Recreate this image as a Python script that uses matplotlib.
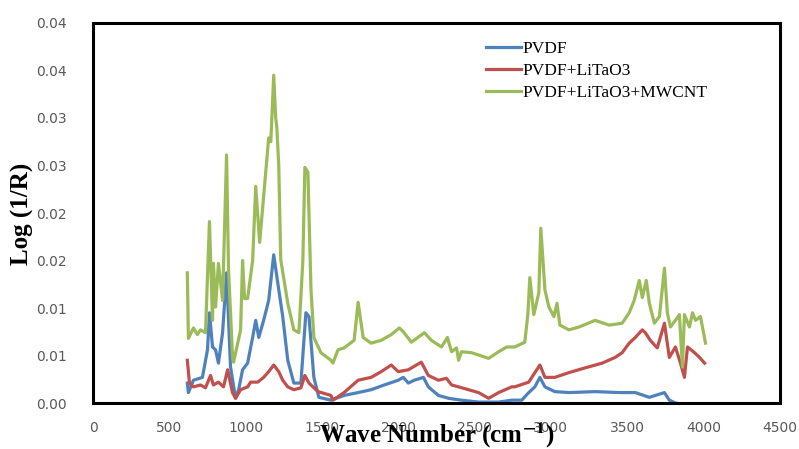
import numpy as np
import matplotlib
matplotlib.use("Agg")
import matplotlib.pyplot as plt

# spectra (wave number cm-1, log(1/R))
pvdf_x = [618, 625, 658, 717, 750, 763, 783, 803, 822, 849, 875, 901, 934, 954, 980,
          1013, 1046, 1066, 1086, 1118, 1151, 1184, 1211, 1243, 1276, 1316, 1362, 1395,
          1415, 1447, 1480, 1559, 1645, 1737, 1822, 1908, 2000, 2033, 2066, 2105, 2165,
          2197, 2263, 2329, 2414, 2526, 2658, 2743, 2809, 2855, 2895, 2928, 2961, 3026,
          3118, 3290, 3447, 3553, 3645, 3744, 3776, 3816, 3900]
pvdf_y = [0.0021, 0.0011, 0.0024, 0.0027, 0.0056, 0.0095, 0.0059, 0.0056, 0.0042, 0.0074,
          0.0137, 0.0038, 0.0005, 0.0014, 0.0035, 0.0042, 0.0069, 0.0087, 0.0069, 0.0087,
          0.0108, 0.0156, 0.0126, 0.0091, 0.0045, 0.0021, 0.0021, 0.0095, 0.0091, 0.0027,
          0.0006, 0.0003, 0.0008, 0.0011, 0.0014, 0.0019, 0.0024, 0.0027, 0.0021, 0.0024,
          0.0027, 0.0017, 0.0008, 0.0005, 0.0003, 0.0001, 0.0001, 0.0003, 0.0003, 0.0011,
          0.0017, 0.0027, 0.0017, 0.0012, 0.0011, 0.0012, 0.0011, 0.0011, 0.0006, 0.0011,
          0.0003, 0.0000, -0.0002]

lt_x = [618, 632, 658, 704, 737, 770, 789, 822, 855, 882, 914, 934, 967, 1013, 1033, 1079,
        1118, 1151, 1184, 1217, 1243, 1276, 1316, 1362, 1388, 1415, 1461, 1474, 1559, 1572,
        1645, 1737, 1822, 1888, 1954, 2000, 2066, 2151, 2197, 2263, 2316, 2349, 2395, 2461,
        2526, 2592, 2658, 2743, 2763, 2855, 2895, 2928, 2961, 3026, 3118, 3224, 3336, 3421,
        3467, 3513, 3553, 3599, 3619, 3651, 3697, 3744, 3776, 3816, 3849, 3875, 3895, 3941,
        3974, 4007]
lt_y = [0.0045, 0.0021, 0.0017, 0.0019, 0.0016, 0.0029, 0.0019, 0.0022, 0.0017, 0.0035,
        0.0011, 0.0005, 0.0014, 0.0017, 0.0022, 0.0022, 0.0027, 0.0033, 0.0040, 0.0033,
        0.0024, 0.0017, 0.0014, 0.0016, 0.0029, 0.0021, 0.0014, 0.0012, 0.0008, 0.0003,
        0.0011, 0.0024, 0.0027, 0.0033, 0.0040, 0.0033, 0.0035, 0.0043, 0.0029, 0.0024,
        0.0026, 0.0019, 0.0017, 0.0014, 0.0011, 0.0005, 0.0011, 0.0017, 0.0017, 0.0022,
        0.0032, 0.0040, 0.0027, 0.0027, 0.0032, 0.0037, 0.0042, 0.0048, 0.0053, 0.0063,
        0.0069, 0.0077, 0.0074, 0.0066, 0.0058, 0.0084, 0.0048, 0.0059, 0.0042, 0.0027,
        0.0059, 0.0053, 0.0048, 0.0042]

cnt_x = [618, 625, 658, 684, 704, 737, 763, 783, 789, 803, 822, 849, 875, 888, 914, 921,
         967, 980, 993, 1013, 1046, 1066, 1092, 1151, 1165, 1184, 1197, 1204, 1217, 1230,
         1276, 1316, 1349, 1375, 1388, 1408, 1428, 1447, 1493, 1559, 1572, 1605, 1645, 1711,
         1737, 1770, 1822, 1888, 1954, 2007, 2033, 2086, 2171, 2217, 2283, 2322, 2349, 2382,
         2395, 2414, 2480, 2592, 2658, 2711, 2763, 2829, 2849, 2862, 2888, 2921, 2934, 2961,
         2987, 3020, 3040, 3059, 3118, 3184, 3290, 3382, 3467, 3513, 3546, 3579, 3599, 3625,
         3645, 3678, 3711, 3744, 3763, 3783, 3816, 3842, 3862, 3875, 3908, 3928, 3948, 3980,
         4013]
cnt_y = [0.0137, 0.0068, 0.0079, 0.0072, 0.0077, 0.0074, 0.0191, 0.0087, 0.0147, 0.0101,
         0.0147, 0.0108, 0.0261, 0.0140, 0.0050, 0.0043, 0.0077, 0.0150, 0.0110, 0.0110,
         0.0150, 0.0228, 0.0169, 0.0279, 0.0275, 0.0345, 0.0300, 0.0291, 0.0250, 0.0151,
         0.0105, 0.0077, 0.0074, 0.0150, 0.0248, 0.0243, 0.0120, 0.0069, 0.0053, 0.0045,
         0.0042, 0.0056, 0.0058, 0.0066, 0.0106, 0.0069, 0.0063, 0.0066, 0.0072, 0.0079,
         0.0075, 0.0064, 0.0074, 0.0066, 0.0059, 0.0069, 0.0054, 0.0058, 0.0045, 0.0054,
         0.0053, 0.0047, 0.0054, 0.0059, 0.0059, 0.0064, 0.0093, 0.0132, 0.0093, 0.0116,
         0.0184, 0.0119, 0.0101, 0.0091, 0.0105, 0.0082, 0.0077, 0.0080, 0.0087, 0.0082,
         0.0084, 0.0095, 0.0108, 0.0129, 0.0111, 0.0129, 0.0105, 0.0084, 0.0091, 0.0142,
         0.0095, 0.0080, 0.0087, 0.0093, 0.0038, 0.0093, 0.0080, 0.0095, 0.0087, 0.0091,
         0.0063]

labels = ["PVDF", "PVDF+LiTaO3", "PVDF+LiTaO3+MWCNT"]
colors = ["#4F81BD", "#C0504D", "#9BBB59"]

x_ticks = np.arange(0, 4501, 500)
y_ticks = np.arange(0, 0.0401, 0.005)
y_tick_labels = ["0.00", "0.01", "0.01", "0.02", "0.02", "0.03", "0.03", "0.04", "0.04"]

plt.rcParams["mathtext.fontset"] = "stix"

fig = plt.figure(figsize=(7.99, 4.49), dpi=100)
ax = fig.add_axes([0.1164, 0.1024, 0.8596, 0.8464])

ax.plot(pvdf_x, pvdf_y, color=colors[0], lw=2.3, label=labels[0])
ax.plot(lt_x, lt_y, color=colors[1], lw=2.3, label=labels[1])
ax.plot(cnt_x, cnt_y, color=colors[2], lw=2.3, label=labels[2])

ax.set_xlim(0, 4500)
ax.set_ylim(0, 0.04)
ax.set_xticks(x_ticks)
ax.set_yticks(y_ticks)
ax.set_yticklabels(y_tick_labels)
ax.tick_params(length=0, labelsize=10, labelcolor="#595959")
ax.tick_params(axis="y", pad=19)
ax.tick_params(axis="x", pad=13)
for s in ax.spines.values():
    s.set_linewidth(2.2)
    s.set_color("black")

# axis titles sit over the tick labels, like in the original
ax.set_xlabel(r"Wave Number (cm$^{\mathbf{-1}}$)", family="Liberation Serif",
              fontweight="bold", fontsize=18, va="center")
ax.xaxis.set_label_coords(0.5, -0.085)
ax.set_ylabel("Log (1/R)", family="Liberation Serif", fontweight="bold",
              fontsize=18, va="center")
ax.yaxis.set_label_coords(-0.103, 0.497)

leg = ax.legend(loc="upper left", bbox_to_anchor=(0.55, 0.995), frameon=False,
                prop={"family": "Liberation Serif", "size": 12.5},
                handlelength=2.0, handletextpad=0.1, labelspacing=0.35)

plt.savefig("out.png", dpi=100)
